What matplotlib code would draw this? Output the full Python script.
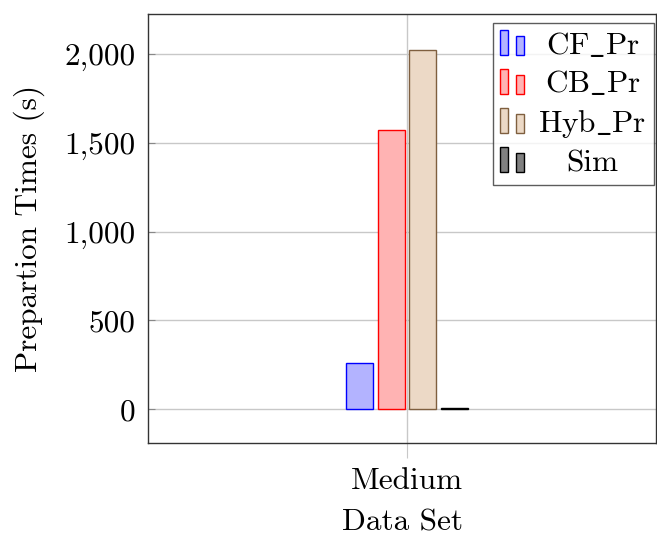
import numpy as np
import matplotlib
matplotlib.use("Agg")
import matplotlib.pyplot as plt
from matplotlib.patches import Rectangle
from matplotlib.legend_handler import HandlerBase

plt.rcParams["font.family"] = ["cmr10", "DejaVu Serif"]
plt.rcParams["mathtext.fontset"] = "cm"
plt.rcParams["axes.formatter.use_mathtext"] = True

FS = 22.5

# preparation times per method, one data set
categories = ["Medium"]
methods = [r"CF$\_$Pr", r"CB$\_$Pr", r"Hyb$\_$Pr", "Sim"]
times = [262, 1572, 2024, 8]

faces = ["#b3b3ff", "#ffb3b3", "#ecd9c6", "#808080"]
edges = ["#0000ff", "#ff0000", "#7f5f3f", "#000000"]
offsets = [-0.476, -0.158, 0.158, 0.476]
bar_w = 0.27


class TwoBarHandler(HandlerBase):
    """pgfplots-like ybar legend image: a tall bar and a short bar."""
    def create_artists(self, legend, orig, xd, yd, width, height, fontsize, trans):
        fc = orig.get_facecolor()
        ec = orig.get_edgecolor()
        w = width * 0.33
        y0 = -yd - 0.05 * height
        r1 = Rectangle((-xd, y0), w, height * 1.14,
                       facecolor=fc, edgecolor=ec, lw=1.0, transform=trans)
        r2 = Rectangle((-xd + width * 0.67, y0), w, height * 0.87,
                       facecolor=fc, edgecolor=ec, lw=1.0, transform=trans)
        return [r1, r2]


fig = plt.figure(figsize=(6.57, 5.40), dpi=100)
ax = fig.add_axes([148 / 657, 1 - 443 / 540, 508 / 657, 429 / 540])

x = np.arange(len(categories))
handles = []
for i, m in enumerate(methods):
    b = ax.bar(x + offsets[i], [times[i]], width=bar_w, color=faces[i],
               edgecolor=edges[i], linewidth=1.0, label=m, zorder=3)
    handles.append(b.patches[0])

ax.set_xlim(-2.59, 2.49)
ax.set_ylim(-191, 2225)
ax.set_xticks(x)
ax.set_xticklabels(categories)
ax.set_yticks([0, 500, 1000, 1500, 2000])
ax.yaxis.set_major_formatter(matplotlib.ticker.FuncFormatter(lambda v, p: f"{int(v):,}"))
ax.grid(True, color="#c8c8c8", linewidth=1.0, zorder=0)
ax.set_axisbelow(True)
ax.tick_params(axis="y", direction="in", length=5, color="#888888",
               labelsize=FS, pad=9)
ax.tick_params(axis="x", direction="out", length=11, color="#c8c8c8",
               labelsize=FS, pad=6)
for s in ax.spines.values():
    s.set_linewidth(1.0)
    s.set_color("#333333")

ax.set_ylabel("Prepartion Times (s)", fontsize=FS, labelpad=14)
ax.set_xlabel("Data Set", fontsize=FS, labelpad=10)

leg = ax.legend(handles, methods, handler_map={h: TwoBarHandler() for h in handles},
                loc="upper right", bbox_to_anchor=(1.0, 0.982), fontsize=FS,
                frameon=True, fancybox=False, edgecolor="#333333",
                handlelength=0.77, handleheight=0.7, handletextpad=0.45,
                labelspacing=0.3, borderpad=0.25, borderaxespad=0.05)
leg.get_frame().set_linewidth(1.0)

# center the shorter labels within the text column
fig.canvas.draw()
rend = fig.canvas.get_renderer()
texts = leg.get_texts()
widths = [t.get_window_extent(rend).width for t in texts]
wmax = max(widths)
for t, w in zip(texts, widths):
    t.set_x((wmax - w) / 2)

fig.savefig("out.png", dpi=100)
